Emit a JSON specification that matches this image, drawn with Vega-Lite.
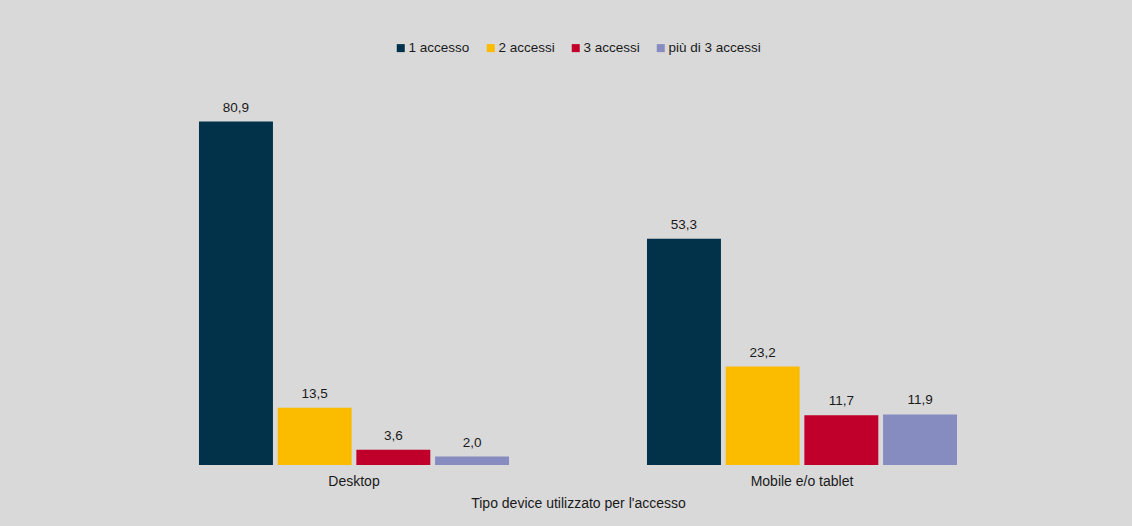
{
  "$schema": "https://vega.github.io/schema/vega-lite/v6.json",
  "autosize": "none",
  "width": 896,
  "height": 382,
  "padding": {"left": 130, "right": 106, "top": 83, "bottom": 61},
  "background": "#d9d9d9",
  "config": {
    "view": {"stroke": null},
    "font": "Liberation Sans",
    "text": {"font": "Liberation Sans"}
  },
  "data": {
    "values": [
      {"device": "Desktop", "accessi": "1 accesso", "valore": 80.9, "etichetta": "80,9"},
      {"device": "Desktop", "accessi": "2 accessi", "valore": 13.5, "etichetta": "13,5"},
      {"device": "Desktop", "accessi": "3 accessi", "valore": 3.6, "etichetta": "3,6"},
      {"device": "Desktop", "accessi": "più di 3 accessi", "valore": 2.0, "etichetta": "2,0"},
      {"device": "Mobile e/o tablet", "accessi": "1 accesso", "valore": 53.3, "etichetta": "53,3"},
      {"device": "Mobile e/o tablet", "accessi": "2 accessi", "valore": 23.2, "etichetta": "23,2"},
      {"device": "Mobile e/o tablet", "accessi": "3 accessi", "valore": 11.7, "etichetta": "11,7"},
      {"device": "Mobile e/o tablet", "accessi": "più di 3 accessi", "valore": 11.9, "etichetta": "11,9"}
    ]
  },
  "encoding": {
    "x": {
      "field": "device",
      "type": "nominal",
      "scale": {"paddingInner": 0.308, "paddingOuter": 0.154},
      "axis": {
        "title": "Tipo device utilizzato per l'accesso",
        "labelAngle": 0,
        "domain": false,
        "ticks": false,
        "labelPadding": 9,
        "labelFontSize": 14,
        "labelColor": "#1a1a1a",
        "titleFontSize": 14,
        "titleFontWeight": "normal",
        "titleColor": "#1a1a1a",
        "titlePadding": 8
      }
    },
    "xOffset": {
      "field": "accessi",
      "type": "nominal",
      "scale": {"paddingInner": 0.06, "paddingOuter": 0}
    },
    "y": {
      "field": "valore",
      "type": "quantitative",
      "scale": {"domain": [0, 90], "nice": false},
      "axis": null
    }
  },
  "layer": [
    {
      "mark": {"type": "bar"},
      "encoding": {
        "color": {
          "field": "accessi",
          "type": "nominal",
          "scale": {
            "domain": ["1 accesso", "2 accessi", "3 accessi", "più di 3 accessi"],
            "range": ["#02324a", "#fbbc00", "#c0002a", "#878cc0"]
          },
          "legend": {
            "title": null,
            "orient": "none",
            "direction": "horizontal",
            "legendX": 264,
            "legendY": -42,
            "symbolType": "square",
            "symbolSize": 64,
            "symbolStrokeWidth": 0,
            "labelFontSize": 13.5,
            "labelColor": "#1a1a1a",
            "labelOffset": 1,
            "columnPadding": 14
          }
        }
      }
    },
    {
      "mark": {"type": "text", "baseline": "bottom", "dy": -7, "fontSize": 13.5, "color": "#1a1a1a"},
      "encoding": {
        "text": {"field": "etichetta", "type": "nominal"}
      }
    }
  ]
}
